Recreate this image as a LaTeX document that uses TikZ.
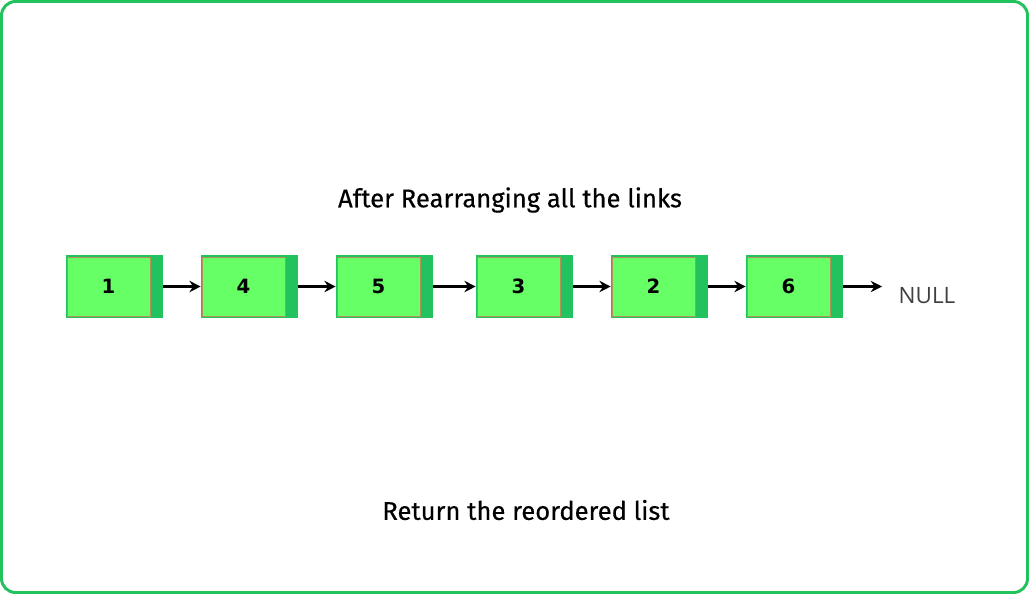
\documentclass[tikz,border=0pt]{standalone}
\usepackage{fontspec}
\setmainfont{Fira Sans}
\newfontfamily\captionfont[FakeBold=0.4]{Fira Sans}
\newfontfamily\numfont{DejaVu Sans}
\newfontfamily\nulltextfont{Open Sans}
\usetikzlibrary{arrows.meta, positioning}
\definecolor{framegreen}{HTML}{22C35E}
\definecolor{cellfill}{HTML}{66FF66}
\definecolor{celldark}{HTML}{22C35E}
\definecolor{celledge}{HTML}{B0925A}

\begin{document}
\begin{tikzpicture}[x=0.025cm, y=-0.025cm,
  cell/.style={rectangle, fill=celldark, minimum width=2.425cm, minimum height=1.575cm, inner sep=0pt},
  cellin/.style={rectangle, fill=cellfill, draw=celledge, line width=0.5pt, minimum width=2.075cm, minimum height=1.475cm, inner sep=0pt, font=\numfont\bfseries\fontsize{14}{16}\selectfont},
  link/.style={-{Stealth[length=8pt, width=8pt]}, line width=2.2pt},
  caption/.style={font=\captionfont\fontsize{18.2}{22}\selectfont}]
    \useasboundingbox (0,0) rectangle (1029,594);
    \draw[framegreen, line width=2.1pt, rounded corners=0.35cm] (1.5,1.5) rectangle (1027.5,592.5);

    % Title and footer
    \node[caption] (title) at (510,200) {After Rearranging all the links};
    \node[caption] (footer) at (526,510) {Return the reordered list};

    % Cells of the list
    \foreach \x/\v [count=\i] in {114.5/1, 249.5/4, 384.5/5, 524.5/3, 659.5/2, 794.5/6} {
        \node[cell] (c\i) at (\x,286.5) {};
        \node[cellin, right=0.025cm of c\i.west] (v\i) {\v};
    }

    % Links
    \foreach \i [evaluate=\i as \j using int(\i+1)] in {1,...,5} {
        \draw[link] (c\i.east) -- (c\j.west);
    }
    \node[font=\nulltextfont\fontsize{16}{19}\selectfont, text=black!75] (null) at (927,296) {NULL};
    \coordinate (nullend) at (882,286.5);
    \draw[link] (c6.east) -- (nullend);
\end{tikzpicture}
\end{document}
